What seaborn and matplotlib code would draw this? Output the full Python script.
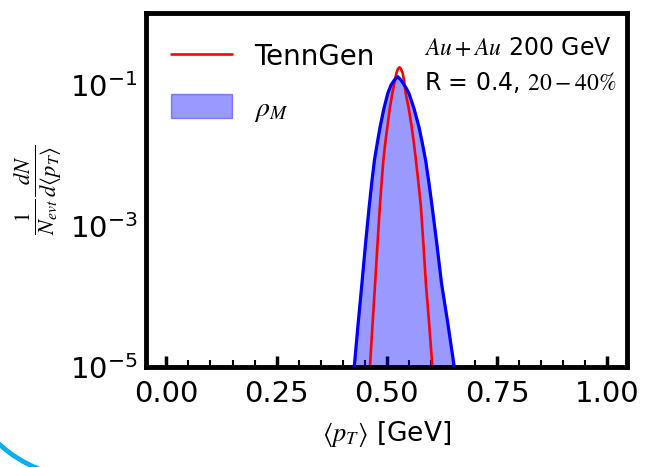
import numpy as np
import pandas as pd
import matplotlib
matplotlib.use("Agg")
import matplotlib.pyplot as plt
import matplotlib.transforms as mtransforms
from matplotlib.patches import Arc
from matplotlib.ticker import MultipleLocator, NullLocator
import seaborn as sns

# TennGen <pT> distribution (x in GeV, log10 of normalised yield)
tenngen_pt = [0.4570, 0.4623, 0.4680, 0.4736, 0.4790, 0.4842, 0.4883, 0.4923,
              0.4970, 0.5014, 0.5070, 0.5126, 0.5160, 0.5187, 0.5217, 0.5250,
              0.5284, 0.5320, 0.5361, 0.5390, 0.5429, 0.5495, 0.5564, 0.5612,
              0.5661, 0.5717, 0.5774, 0.5830, 0.5887, 0.5958, 0.6029, 0.6080]
tenngen_log10 = [-5.53, -4.948, -4.36, -3.813, -3.25, -2.726, -2.38, -2.064,
                 -1.80, -1.591, -1.32, -1.118, -1.01, -0.929, -0.834, -0.775,
                 -0.749, -0.770, -0.834, -0.929, -1.118, -1.32, -1.591, -1.81,
                 -2.064, -2.38, -2.726, -3.25, -3.813, -4.36, -4.948, -5.38]

# rho_M <pT> distribution
rhom_pt = [0.4210, 0.4269, 0.4352, 0.4436, 0.4518, 0.4600, 0.4660, 0.4720,
           0.4785, 0.4849, 0.4936, 0.5023, 0.5097, 0.5172, 0.5248, 0.5323,
           0.5397, 0.5450, 0.5503, 0.5616, 0.5729, 0.5805, 0.5880, 0.5955,
           0.6029, 0.6135, 0.6242, 0.6380, 0.6519, 0.6590]
rhom_log10 = [-5.37, -4.948, -4.37, -3.813, -3.25, -2.726, -2.38, -2.064,
              -1.82, -1.591, -1.33, -1.118, -1.0, -0.929, -0.882, -0.929,
              -1.0, -1.055, -1.118, -1.33, -1.591, -1.82, -2.064, -2.38,
              -2.726, -3.25, -3.813, -4.36, -4.948, -5.27]

x_ticks = [0.0, 0.25, 0.5, 0.75, 1.0]
x_tick_labels = ["0.00", "0.25", "0.50", "0.75", "1.00"]
y_ticks = [1e-5, 1e-3, 1e-1]

tenngen = pd.DataFrame({"pt": tenngen_pt, "dens": 10 ** np.array(tenngen_log10)})
rhom = pd.DataFrame({"pt": rhom_pt, "dens": 10 ** np.array(rhom_log10)})

sns.set_theme(style="white")
plt.rcParams["font.family"] = ["DejaVu Sans"]
plt.rcParams["mathtext.fontset"] = "stix"
plt.rcParams["text.color"] = "black"
plt.rcParams["axes.labelcolor"] = "black"
plt.rcParams["xtick.color"] = "black"
plt.rcParams["ytick.color"] = "black"

fig = plt.figure(figsize=(6.46, 4.67), dpi=100)
ax = fig.add_axes([0.2255, 0.2141, 0.7451, 0.7580])

fill = ax.fill_between(rhom["pt"], rhom["dens"], 1e-7, color="blue", alpha=0.4,
                       label=r"$\rho_M$", zorder=1)
sns.lineplot(data=tenngen, x="pt", y="dens", ax=ax, color="red", lw=1.9,
             sort=False, label="TennGen", zorder=2)
sns.lineplot(data=rhom, x="pt", y="dens", ax=ax, color="blue", lw=2.3,
             sort=False, zorder=3)

ax.set_yscale("log")
ax.set_xlim(-0.047, 1.045)
ax.set_ylim(1e-5, 1.05)

ax.set_xticks(x_ticks)
ax.set_xticklabels(x_tick_labels)
ax.xaxis.set_minor_locator(MultipleLocator(0.05))
ax.set_yticks(y_ticks)
ax.yaxis.set_minor_locator(NullLocator())

ax.tick_params(axis="x", which="major", direction="in", length=8, width=2.5,
               labelsize=21, pad=9, color="black", labelcolor="black",
               bottom=True, top=False)
ax.tick_params(axis="x", which="minor", direction="in", length=5, width=1.5,
               color="black", bottom=True, top=False)
ax.tick_params(axis="y", which="major", length=0, labelsize=21, pad=6,
               labelcolor="black")

for s in ax.spines.values():
    s.set_linewidth(3.5)
    s.set_color("black")

ax.set_xlabel(r"$\langle p_T\rangle$ [GeV]", fontsize=19, labelpad=8,
              color="black")
ax.set_ylabel(r"$\frac{1}{N_{evt}}\frac{dN}{d\langle p_T\rangle}$", fontsize=23,
              labelpad=4, color="black")

handles = [ax.lines[0], fill]
labels = ["TennGen", r"$\rho_M$"]
leg = ax.legend(handles, labels, loc="upper left", bbox_to_anchor=(0.0, 0.985),
                frameon=False, fontsize=20, handlelength=2.2, handleheight=1.0,
                handletextpad=0.8, labelspacing=0.8)
for t in leg.get_texts():
    t.set_color("black")

ax.text(0.578, 0.881, r"$Au+Au$ 200 GeV", transform=ax.transAxes,
        fontsize=17, ha="left", va="baseline", color="black")
ax.text(0.578, 0.782, r"R = 0.4, $20-40\%$", transform=ax.transAxes,
        fontsize=17, ha="left", va="baseline", color="black")

# decorative arc in the lower-left corner
arc = Arc((84.6, 115.5), 252, 252, theta1=215, theta2=252, color="#00B0F0",
          lw=3.4, transform=mtransforms.IdentityTransform())
fig.add_artist(arc)

fig.savefig("out.png", dpi=100)
